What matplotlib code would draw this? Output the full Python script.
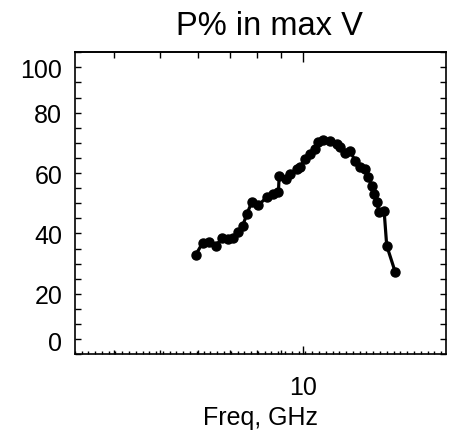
import numpy as np
import matplotlib
matplotlib.use("Agg")
from matplotlib import pyplot as plt
from matplotlib import ticker
from matplotlib.transforms import ScaledTranslation

plt.rcParams['font.family'] = ['Liberation Sans', 'DejaVu Sans']

# frequency (GHz) and polarization percentage
freq = [5.94, 6.14, 6.34, 6.55, 6.74, 6.95, 7.13, 7.30, 7.46, 7.61,
        7.79, 8.05, 8.38, 8.65, 8.87, 8.90, 9.20, 9.38, 9.69, 9.85,
        10.09, 10.34, 10.59, 10.77, 11.03, 11.39, 11.77, 11.96, 12.25, 12.56,
        12.86, 13.18, 13.50, 13.72, 13.95, 14.13, 14.29, 14.47, 14.81, 15.00,
        15.62]
pct = [33.0, 36.9, 37.1, 36.0, 38.4, 38.2, 38.4, 40.4, 42.6, 46.5,
       50.3, 49.4, 52.0, 53.1, 53.8, 59.1, 58.0, 59.7, 61.4, 61.9,
       64.7, 66.3, 68.0, 70.2, 71.1, 70.7, 69.6, 68.5, 66.7, 67.4,
       64.1, 61.9, 61.4, 58.6, 55.8, 53.1, 50.3, 47.0, 47.6, 36.0,
       27.4]

y_ticks = [0, 20, 40, 60, 80, 100]
x_major = [10]
x_minor = [4, 5, 6, 7, 8, 9]

fig = plt.figure(figsize=(4.52, 4.39), dpi=100)
ax = fig.add_axes([0.1653, 0.1907, 0.8214, 0.6879])

ax.plot(freq, pct, '-o', color='black', lw=2.3, ms=6.5)

ax.set_xscale('log')
ax.set_xlim(3.3, 20)
ax.set_ylim(0, 100)

# y axis: ticks every 5, labels every 20, on both sides pointing in
ax.yaxis.set_major_locator(ticker.FixedLocator(y_ticks))
ax.yaxis.set_minor_locator(ticker.MultipleLocator(5))
ax.tick_params(axis='y', which='both', direction='in', left=True, right=True,
               length=4, width=1, labelsize=18, pad=9)

# x axis bottom: one labelled tick at 10, medium ticks 4..9
ax.xaxis.set_major_locator(ticker.FixedLocator(x_major))
ax.xaxis.set_major_formatter(ticker.FixedFormatter(['10']))
ax.xaxis.set_minor_locator(ticker.FixedLocator(x_minor))
ax.xaxis.set_minor_formatter(ticker.NullFormatter())
ax.tick_params(axis='x', which='major', direction='in', length=6, width=1,
               labelsize=18, pad=15)
ax.tick_params(axis='x', which='minor', direction='in', length=3, width=1)

# top: ticks pointing down
top = ax.secondary_xaxis('top')
top.xaxis.set_major_locator(ticker.FixedLocator(x_major))
top.xaxis.set_minor_locator(ticker.FixedLocator(x_minor))
top.xaxis.set_major_formatter(ticker.NullFormatter())
top.xaxis.set_minor_formatter(ticker.NullFormatter())
top.tick_params(which='major', direction='in', length=7, width=1)
top.tick_params(which='minor', direction='in', length=4, width=1)

# tiny evenly spaced ticks along the bottom
tiny = ax.secondary_xaxis('bottom')
tiny_locs = 10 ** np.arange(np.log10(3.3), np.log10(20), 0.0143)
tiny.xaxis.set_major_locator(ticker.FixedLocator(tiny_locs))
tiny.xaxis.set_minor_locator(ticker.NullLocator())
tiny.xaxis.set_major_formatter(ticker.NullFormatter())
tiny.tick_params(which='major', direction='in', length=2, width=1)
tiny.spines['bottom'].set_visible(False)

for s in ax.spines.values():
    s.set_linewidth(1.2)
top.spines['top'].set_linewidth(1.2)

ax.set_title('P% in max V', fontsize=23.5, x=0.524, pad=13)
ax.set_xlabel('Freq, GHz', fontsize=18, labelpad=4)

# end labels sit inside the axis range, as in the original
labels = ax.get_yticklabels()
labels[0].set_transform(labels[0].get_transform() + ScaledTranslation(0, 10 / 72, fig.dpi_scale_trans))
labels[-1].set_transform(labels[-1].get_transform() + ScaledTranslation(0, -11 / 72, fig.dpi_scale_trans))

fig.savefig('out.png', dpi=100)
